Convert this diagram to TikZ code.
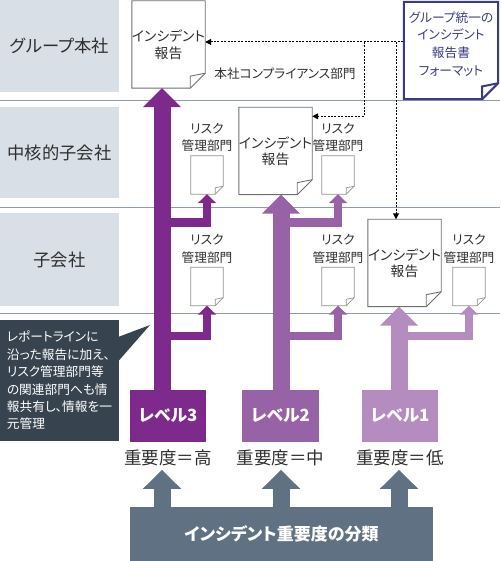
\documentclass[tikz,border=0pt]{standalone}
\usepackage{fontspec}
\setmainfont{Noto Sans CJK JP}[RawFeature=+palt]
\usetikzlibrary{calc,arrows.meta,positioning}
\tikzset{>=latex}
\definecolor{rowgray}{HTML}{D9DFE6}
\definecolor{sepblue}{HTML}{8E9AAD}
\definecolor{inkgray}{HTML}{2E2E2E}
\definecolor{docgray}{HTML}{6E6E6E}
\definecolor{navy}{HTML}{3B3A88}
\definecolor{lvhi}{HTML}{7E2A8C}
\definecolor{lvmid}{HTML}{9862A6}
\definecolor{lvlo}{HTML}{B48CC0}
\definecolor{slate}{HTML}{5F7183}
\definecolor{callgray}{HTML}{37444F}

\tikzset{
  rowband/.style={fill=rowgray, minimum width=119pt, inner sep=0pt, text=inkgray, font=\fontsize{17.3}{20}\selectfont},
  sepline/.style={draw=sepblue, line width=0.8pt},
  docbig/.style={minimum width=73pt, minimum height=87pt, inner sep=0pt, align=center, text=inkgray, font=\fontsize{13.8}{16.5}\selectfont},
  docsmall/.style={minimum width=32pt, minimum height=38pt, inner sep=0pt},
  fmtbox/.style={minimum width=94pt, minimum height=97pt, inner sep=0pt},
  bigline/.style={draw=docgray, line width=0.9pt},
  smallline/.style={draw=docgray!75, line width=0.7pt},
  navyline/.style={draw=navy, line width=2pt},
  risklabel/.style={align=center, inner sep=0pt, text=inkgray, font=\fontsize{12.7}{17.5}\selectfont},
  dashline/.style={line width=1pt, dash pattern=on 2pt off 1.4pt, -{Triangle[length=6pt,width=6pt]}},
  bigarrow/.style={line width=17pt, -{Triangle[length=19pt 0 0,width=37pt 0 0]}},
  smallarrow/.style={line width=8.5pt, line join=miter, -{Triangle[length=9pt 0 0,width=18pt 0 0]}},
  levelbox/.style={minimum width=76pt, minimum height=52pt, inner sep=0pt, text=white, font=\bfseries\fontsize{16.8}{20}\selectfont},
  implabel/.style={inner sep=0pt, text=inkgray, font=\fontsize{17.5}{20}\selectfont},
  callbox/.style={fill=callgray, minimum width=119pt, minimum height=121pt, inner sep=0pt, align=left, text=white, font=\fontsize{12.7}{17.4}\selectfont},
}

% page with a folded corner: name, node style, line style, fold, position, text
\newcommand{\docpage}[6]{%
  \node[#2] (#1) at (#5) {#6};
  \draw[#3] (#1.north west) -- (#1.north east) -- ($(#1.south east)+(0,#4)$)
    -- ($(#1.south east)+(-#4,0)$) -- (#1.south west) -- cycle;
  \draw[#3] ($(#1.south east)+(-#4,0)$) -- ++(0,0.8*#4) -- ($(#1.south east)+(0,#4)$);
}

\begin{document}
\begin{tikzpicture}[x=1pt,y=1pt]
  \useasboundingbox (0,0) rectangle (500,561);
  \def\xhi{162}   % stem of level 3
  \def\xmid{281}  % stem of level 2
  \def\xlo{399}   % stem of level 1
  \def\brB{338.5} % branch height, row B
  \def\brC{225}   % branch height, row C
  %
  \foreach \yc/\h/\name/\txt in {515/92/rowA/グループ本社, 408.5/91/rowB/中核的子会社, 301.5/93/rowC/子会社} {%
    \node[rowband, minimum height=\h] (\name) at (59.5,\yc) {\txt};
  }
  \foreach \y in {461,354,248} {%
    \draw[sepline] (0,\y) -- (500,\y);
  }
  %
  \docpage{dochi}{docbig}{bigline}{15}{168.5,516.5}{インシデント\\報告}
  \docpage{docmid}{docbig}{bigline}{15}{275.5,410}{インシデント\\報告}
  \docpage{doclo}{docbig}{bigline}{15}{404.5,298}{インシデント\\報告}
  \docpage{fmt}{fmtbox}{navyline}{16}{451,510.5}{}
  \node[align=center, inner sep=0pt, text=navy, font=\fontsize{12.7}{17.7}\selectfont] (fmttext) at (451,517)
    {グループ統一の\\インシデント\\報告書\\フォーマット};
  \node[risklabel] (compl) at (285,487) {本社コンプライアンス部門};
  %
  \foreach \name/\pos in {riskhiB/{207,386}, riskmidB/{338,386}, riskhiC/{207,274.5}, riskmidC/{338,274.5}, risklo/{469,274.5}} {%
    \docpage{\name}{docsmall}{smallline}{8}{\pos}{}
    \node[risklabel, above=4pt of \name] (lbl\name) {リスク\\管理部門};
  }
  %
  \coordinate (fmtport) at (403,519);
  \coordinate (splitmid) at (364,519);
  \coordinate (splitlo) at (396,519);
  \coordinate (midin) at ($(docmid.north east)+(0,-9)$);
  \draw[dashline] (fmtport) -- (dochi.east |- fmtport);
  \draw[dashline] (splitmid) |- (midin);
  \draw[dashline] (splitlo) -- (splitlo |- doclo.north);
  %
  \node[levelbox, fill=lvhi] (lvhi) at (168,145) {レベル3};
  \node[levelbox, fill=lvmid, minimum width=77pt] (lvmid) at (280.5,145) {レベル2};
  \node[levelbox, fill=lvlo] (lvlo) at (400,145) {レベル1};
  \coordinate (shi) at (\xhi,171);
  \coordinate (smid) at (\xmid,171);
  \coordinate (slo) at (\xlo,171);
  \draw[bigarrow, color=lvhi] (shi) -- (shi |- dochi.south);
  \draw[bigarrow, color=lvmid] (smid) -- (smid |- docmid.south);
  \draw[bigarrow, color=lvlo] (slo) -- (slo |- doclo.south);
  %
  \coordinate (bhiB) at (\xhi,\brB);
  \coordinate (bhiC) at (\xhi,\brC);
  \coordinate (bmidB) at (\xmid,\brB);
  \coordinate (bmidC) at (\xmid,\brC);
  \coordinate (blo) at (\xlo,\brC);
  \draw[smallarrow, color=lvhi] (bhiB) -| (riskhiB.south);
  \draw[smallarrow, color=lvhi] (bhiC) -| (riskhiC.south);
  \draw[smallarrow, color=lvmid] (bmidB) -| (riskmidB.south);
  \draw[smallarrow, color=lvmid] (bmidC) -| (riskmidC.south);
  \draw[smallarrow, color=lvlo] (blo) -| (risklo.south);
  %
  \node[implabel] (imphi) at (168,103) {重要度＝高};
  \node[implabel] (impmid) at (280.5,103) {重要度＝中};
  \node[implabel] (implo) at (400,103) {重要度＝低};
  %
  \node[fill=slate, minimum width=303pt, minimum height=54pt, inner sep=0pt, text=white,
    font=\bfseries\fontsize{17}{20}\selectfont] (cls) at (281.5,27) {インシデント重要度の分類};
  \foreach \s in {shi,smid,slo} {%
    \draw[bigarrow, color=slate] (\s |- cls.north) -- ++(0,37);
  }
  %
  \node[callbox] (note) at (59.5,180.5)
    {レポートラインに\\沿った報告に加え、\\リスク管理部門等\\の関連部門へも情\\報共有し、情報を一\\元管理};
  \coordinate (notetip) at (150,236);
  \fill[callgray] ($(note.north east)+(-0.5,-17)$) -- (notetip) -- ($(note.north east)+(-0.5,-41)$) -- cycle;
\end{tikzpicture}
\end{document}
